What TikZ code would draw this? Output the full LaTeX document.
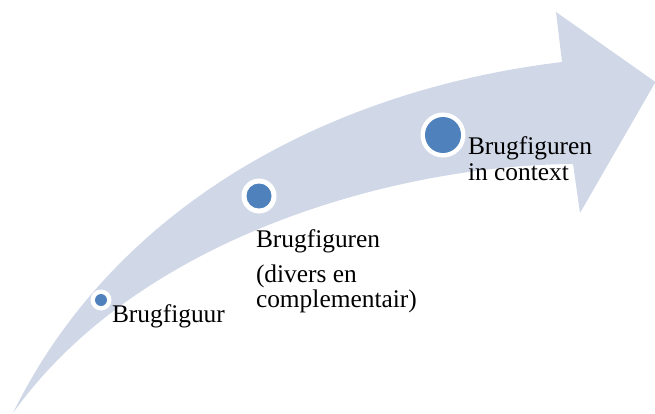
\documentclass[tikz,border=0pt]{standalone}
\usepackage{fontspec}
\setmainfont{Liberation Serif}
\definecolor{bandblue}{HTML}{D0D8E8}
\definecolor{dotblue}{HTML}{4F81BD}
\tikzset{
  lbl/.style={anchor=base west, inner sep=0pt, outer sep=0pt, text=black, align=left, font=\fontsize{25.4}{26}\selectfont},
  dotring/.style={circle, fill=white, inner sep=0pt},
  dotcore/.style={circle, fill=dotblue, inner sep=0pt}
}
\begin{document}
\begin{tikzpicture}[x=1pt,y=-1pt]
\useasboundingbox (0,0) rectangle (655,414);
% curved arrow band
\fill[bandblue] (13,413) .. controls (115,205) and (330,90) .. (562,62)
  -- (556,12) -- (655.5,82) -- (580,213) -- (573,164)
  .. controls (400,165) and (140,235) .. (13,413) -- cycle;
% dots
\node[dotring, minimum size=21pt] (r1) at (101,300) {};
\node[dotcore, minimum size=12pt] (d1) at (r1) {};
\node[dotring, minimum size=35pt] (r2) at (259,196) {};
\node[dotcore, minimum size=25pt] (d2) at (r2) {};
\node[dotring, minimum size=45pt] (r3) at (443,135) {};
\node[dotcore, minimum size=36pt] (d3) at (r3) {};
% labels
\node[lbl] (t1) at (112,322) {Brugfiguur};
\node[lbl] (t2a) at (256,247) {Brugfiguren};
\node[lbl, font=\fontsize{25.4}{22.5}\selectfont] (t2b) at (256,307) {(divers en\\complementair)};
\node[lbl] (t3) at (468,180) {Brugfiguren\\in context};
\end{tikzpicture}
\end{document}
